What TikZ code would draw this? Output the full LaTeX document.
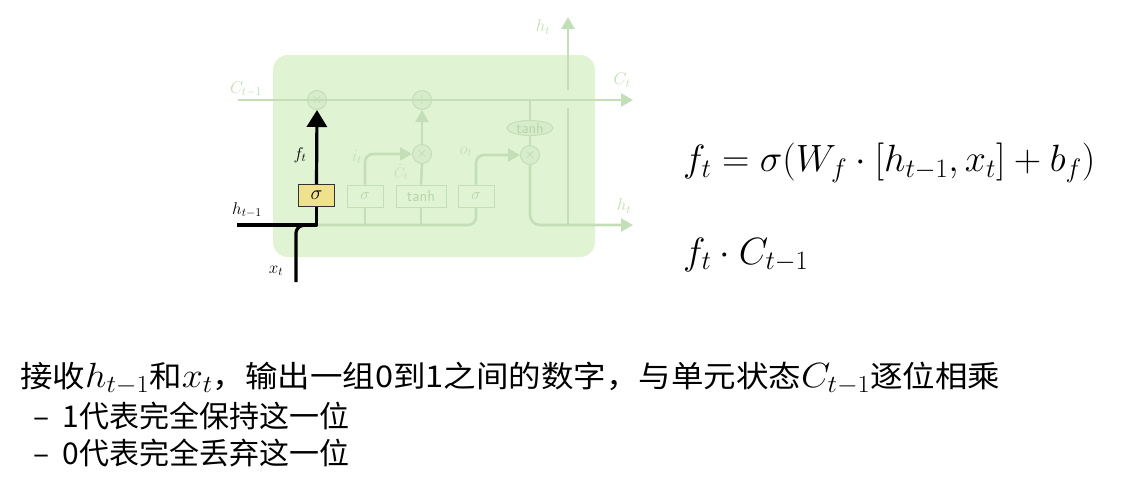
\RequirePackage{fix-cm}
\documentclass[tikz,border=0pt]{standalone}
\usepackage{fontspec}
\usetikzlibrary{arrows.meta,shapes.geometric}
\newfontfamily\cjk{Noto Sans CJK SC}
\definecolor{cellbg}{RGB}{224,244,211}
\definecolor{fline}{RGB}{196,222,184}
\definecolor{fnode}{RGB}{214,236,202}
\definecolor{ftext}{RGB}{196,222,184}
\definecolor{fsym}{RGB}{184,212,172}
\definecolor{ybox}{RGB}{240,226,140}
\newcommand{\inmath}[1]{{\fontsize{35}{35}\selectfont$#1$}}
\tikzset{
  faded/.style={draw=fline,line width=2.6pt},
  fadedarr/.style={faded,-{Triangle[length=12pt,width=13pt]}},
  fcirc/.style={circle,draw=fline,fill=fnode,line width=1pt,minimum size=19pt,inner sep=0pt,text=fsym,font=\sffamily\fontsize{14}{14}\selectfont},
  fbox/.style={rectangle,draw=fline,fill=cellbg,line width=1pt,minimum height=22pt,inner sep=0pt,text=fsym,font=\sffamily\fontsize{16}{16}\selectfont},
  flabel/.style={text=ftext,font=\fontsize{17}{17}\selectfont},
  blk/.style={draw=black,line width=3.2pt},
  blabel/.style={text=black,font=\fontsize{17}{17}\selectfont},
  eqn/.style={anchor=west,inner sep=0pt,font=\fontsize{38}{38}\selectfont},
  cn/.style={anchor=west,inner sep=0pt,font=\cjk\fontsize{30}{34}\selectfont},
}
\begin{document}
\begin{tikzpicture}[x=1pt,y=-1pt]
\useasboundingbox[fill=white] (0,0) rectangle (1143,490);
% cell background
\node[draw=none,fill=cellbg,rounded corners=15pt,minimum width=322pt,minimum height=202pt,inner sep=0pt] (cell) at (434,156) {};
% coordinates
\coordinate (cin) at (238,100);
\coordinate (cout) at (633,100);
\coordinate (hin) at (237,225);
\coordinate (hout) at (633,225);
\coordinate (xin) at (296,282);
\coordinate (htop) at (568,17);
\coordinate (hbot) at (568,225);
% nodes
\node[fcirc] (m1) at (317,100) {$\times$};
\node[fcirc] (a1) at (422,100) {$+$};
\node[fcirc] (m2) at (422,154) {$\times$};
\node[fcirc] (m3) at (530,155) {$\times$};
\node[ellipse,draw=fline,fill=fnode,line width=1pt,minimum width=46pt,minimum height=15pt,inner sep=0pt,text=fsym,font=\sffamily\fontsize{15}{15}\selectfont] (th) at (530,128) {tanh};
\node[fbox,minimum width=36pt] (s2) at (365,196) {$\sigma$};
\node[fbox,minimum width=50pt] (t2) at (421,196) {tanh};
\node[fbox,minimum width=36pt] (s3) at (476,196) {$\sigma$};
% faded connectors
\draw[fadedarr] (cin) -- (cout);
\draw[faded] (hin) -- (cell.south west |- hin) -- (m1 |- hin);
\draw[faded,rounded corners=8pt] (m1 |- hin) -- (s3.south |- hin) -- (s3.south);
\draw[faded] (s2.south |- hin) -- (s2.south);
\draw[faded] (t2.south |- hin) -- (t2.south);
\draw[fadedarr,rounded corners=8pt] (s2.north) -- (s2.north |- m2) -- (m2.west);
\draw[fadedarr,rounded corners=8pt] (s3.north) -- (s3.north |- m3) -- (m3.west);
\draw[faded] (t2.north) -- (m2.south);
\draw[fadedarr] (m2.north) -- (a1.south);
\draw[faded] (m3 |- cin) -- (th.north);
\draw[faded] (th.south) -- (m3.north);
\draw[fadedarr,rounded corners=10pt] (m3.south) -- (m3 |- hout) -- (hout);
\draw[fadedarr] (hbot) -- (568,108) (568,90) -- (htop);
% faded labels
\node[flabel] (lc1) at (246,89) {$C_{t-1}$};
\node[flabel] (lc2) at (622,80) {$C_t$};
\node[flabel] (lh1) at (543,27) {$h_t$};
\node[flabel] (lh2) at (624,206) {$h_t$};
\node[flabel] (li) at (357,157) {$i_t$};
\node[flabel] (lo) at (466,152) {$o_t$};
\node[flabel,inner sep=0pt,font=\fontsize{14}{14}\selectfont] (lct) at (401,172) {$\tilde{C}_t$};
% highlighted path
\node[rectangle,draw=black!80,fill=ybox,line width=1pt,minimum width=36pt,minimum height=22pt,inner sep=0pt,font=\fontsize{20}{20}\selectfont] (s1) at (316.5,195.5) {$\sigma$};
\draw[blk,line join=round] (hin) -- (s1.south |- hin) -- (s1.south);
\draw[blk,rounded corners=6pt] (xin) -- (296,227) -- (305,225);
\draw[blk,-{Triangle[length=17pt,width=20pt]}] (s1.north) -- (m1.south);
\node[blabel] (lf) at (300,155) {$f_t$};
\node[blabel] (lh0) at (247,210) {$h_{t-1}$};
\node[blabel] (lx) at (276,271) {$x_t$};
% equations
\node[eqn] (eq1) at (683,163) {$f_t=\sigma(W_f\cdot[h_{t-1},x_t]+b_f)$};
\node[eqn] (eq2) at (683,255) {$f_t\cdot C_{t-1}$};
% text
\node[cn] (l1) at (20,378) {\scalebox{1.083}[1]{接收\inmath{h_{t-1}}和\inmath{x_t}，输出一组0到1之间的数字，与单元状态\inmath{C_{t-1}}逐位相乘}};
\node[cn] (l2) at (33,416) {–\ \ 1代表完全保持这一位};
\node[cn] (l3) at (33,453) {–\ \ 0代表完全丢弃这一位};
\end{tikzpicture}
\end{document}
